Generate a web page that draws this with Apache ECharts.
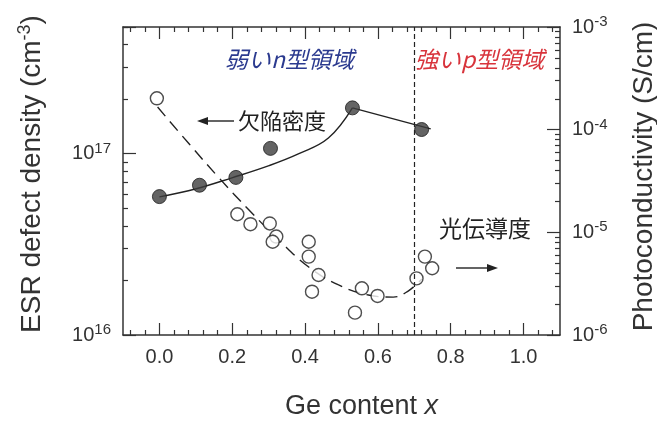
<!DOCTYPE html>
<html>
<head>
<meta charset="utf-8">
<script src="https://cdn.jsdelivr.net/npm/echarts@6/dist/echarts.min.js"></script>
<style>
html,body{margin:0;padding:0;background:#ffffff;}
#c{width:657px;height:421px;}
</style>
</head>
<body>
<div id="c"></div>
<script>
// ---- data ----
const defectX = [0.0, 0.11, 0.21, 0.305, 0.53, 0.72];
const defectY = [5.8e16, 6.7e16, 7.4e16, 1.07e17, 1.79e17, 1.36e17];

// fitted guide line for the defect density (curved part, then straight part)
const defectCurveX = [0.0, 0.101, 0.199, 0.301, 0.383, 0.464, 0.53];
const defectCurveY = [5.78e16, 6.41e16, 7.36e16, 8.59e16, 1.0e17, 1.22e17, 1.79e17];
const defectTailX = [0.53, 0.745];
const defectTailY = [1.79e17, 1.37e17];

const photoX = [-0.007, 0.214, 0.25, 0.303, 0.321, 0.311, 0.41, 0.41, 0.437, 0.419, 0.537, 0.556, 0.599, 0.706, 0.729, 0.749];
const photoY = [2.02e-4, 1.50e-5, 1.20e-5, 1.22e-5, 9.1e-6, 8.1e-6, 8.1e-6, 5.8e-6, 3.84e-6, 2.64e-6, 1.65e-6, 2.85e-6, 2.4e-6, 3.56e-6, 5.8e-6, 4.47e-6];

// dashed guide line for the photoconductivity
const photoFitX = [-0.005, 0.082, 0.164, 0.246, 0.328, 0.41, 0.492, 0.574, 0.642, 0.683, 0.721];
const photoFitY = [1.66e-4, 7.24e-5, 3.38e-5, 1.65e-5, 8.41e-6, 4.59e-6, 3.07e-6, 2.45e-6, 2.34e-6, 2.68e-6, 3.51e-6];

const xTickLabels = [0.0, 0.2, 0.4, 0.6, 0.8, 1.0];
const regionBoundary = 0.7;

const xTitle = 'Ge content {i|x}';
const leftTitle = '{a|ESR defect density (cm}{s|-3}{a|)}';
const rightTitle = 'Photoconductivity (S/cm)';
const weakN = '弱いn型領域';
const strongP = '強いp型領域';
const defectLabel = '欠陥密度';
const photoLabel = '光伝導度';

// ---- helpers ----
const zip = (xs, ys) => xs.map((x, i) => [x, ys[i]]);
const xMinor = [];
for (let i = -2; i <= 27; i++) {
  const v = +(i * 0.04).toFixed(2);
  if (Math.abs(v / 0.2 - Math.round(v / 0.2)) > 1e-6) xMinor.push(v);
}
function logMinors(lo, hi) {
  const out = [];
  for (let d = lo; d < hi; d++) for (let k = 2; k <= 9; k++) {
    const v = d + Math.log10(k);
    if (v <= hi + 1e-9) out.push(v);
  }
  return out;
}
const leftMax = Math.log10(5e17);
const leftMinor = logMinors(16, leftMax);
const rightMinor = logMinors(-6, -3);

const LAT = '"Liberation Sans", Arial, sans-serif';
const CJK = '"Noto Sans CJK JP", sans-serif';
const AX = '#333';
const INK = '#222';

const supRich = {
  a: {fontSize: 20, fontFamily: LAT, color: AX},
  b: {fontSize: 15, fontFamily: LAT, color: AX, padding: [0, 0, 10, 0]}
};
const expFmt = v => {
  const e = Math.log10(v);
  if (Math.abs(e - Math.round(e)) > 0.01) return '';
  return '{a|10}{b|' + Math.round(e) + '}';
};

function deco(pos, min, max, vals, len) {
  return {
    type: 'value', gridIndex: 0, position: pos, min: min, max: max,
    axisLine: {show: false, onZero: false},
    axisTick: {show: true, inside: true, length: len, customValues: vals, lineStyle: {color: AX, width: 1.2}},
    axisLabel: {show: false}, splitLine: {show: false}, silent: true
  };
}

const chart = echarts.init(document.getElementById('c'), null, {renderer: 'canvas'});
chart.setOption({
  backgroundColor: '#ffffff',
  animation: false,
  grid: {left: 123, right: 97, top: 27, bottom: 86, containLabel: false, outerBoundsMode: 'none'},
  xAxis: [
    {
      type: 'value', position: 'bottom', min: -0.1, max: 1.1,
      axisLine: {show: true, onZero: false, lineStyle: {color: AX, width: 1.5}},
      axisTick: {show: true, inside: true, length: 12, customValues: xTickLabels, lineStyle: {color: AX, width: 1.2}},
      axisLabel: {show: true, customValues: xTickLabels, formatter: v => v.toFixed(1), fontSize: 20, fontFamily: LAT, color: AX, margin: 12},
      splitLine: {show: false},
      name: xTitle, nameLocation: 'middle', nameGap: 58,
      nameTextStyle: {fontSize: 27, fontFamily: LAT, color: AX, padding: [0, 0, 0, 40],
        rich: {i: {fontSize: 27, fontFamily: LAT, color: AX, fontStyle: 'italic'}}}
    },
    deco('bottom', -0.1, 1.1, xMinor, 5),
    {
      type: 'value', position: 'top', min: -0.1, max: 1.1,
      axisLine: {show: true, onZero: false, lineStyle: {color: AX, width: 1.5}},
      axisTick: {show: true, inside: true, length: 12, customValues: xTickLabels, lineStyle: {color: AX, width: 1.2}},
      axisLabel: {show: false}, splitLine: {show: false}
    },
    deco('top', -0.1, 1.1, xMinor, 5)
  ],
  yAxis: [
    {
      type: 'log', logBase: 10, position: 'left', min: 1e16, max: 5e17,
      axisLine: {show: true, onZero: false, lineStyle: {color: AX, width: 1.5}},
      axisTick: {show: true, inside: true, length: 13, lineStyle: {color: AX, width: 1.2}},
      axisLabel: {formatter: expFmt, rich: supRich, margin: 12},
      splitLine: {show: false}, minorTick: {show: false},
      name: leftTitle, nameLocation: 'middle', nameRotate: 90, nameGap: 75,
      nameTextStyle: {padding: [0, 0, 0, 14],
        rich: {a: {fontSize: 28, fontFamily: LAT, color: AX},
               s: {fontSize: 18, fontFamily: LAT, color: AX, padding: [0, 0, 14, 0]}}}
    },
    {
      type: 'log', logBase: 10, position: 'right', min: 1e-6, max: 1e-3,
      axisLine: {show: true, onZero: false, lineStyle: {color: AX, width: 1.5}},
      axisTick: {show: true, inside: true, length: 13, lineStyle: {color: AX, width: 1.2}},
      axisLabel: {formatter: expFmt, rich: supRich, margin: 12},
      splitLine: {show: false}, minorTick: {show: false},
      name: rightTitle, nameLocation: 'middle', nameRotate: 90, nameGap: 70,
      nameTextStyle: {fontSize: 28, fontFamily: LAT, color: AX, padding: [0, 0, 0, 9]}
    },
    deco('left', 16, leftMax, leftMinor, 5),
    deco('right', -6, -3, rightMinor, 5)
  ],
  series: [
    {
      type: 'line', xAxisIndex: 0, yAxisIndex: 0, data: zip(defectCurveX, defectCurveY),
      smooth: 0.4, showSymbol: false, symbol: 'none',
      lineStyle: {color: INK, width: 1.4}, z: 2,
      markLine: {
        silent: true, symbol: 'none', label: {show: false},
        lineStyle: {color: INK, type: [5, 3], width: 1.2},
        data: [{xAxis: regionBoundary}]
      }
    },
    {
      type: 'line', xAxisIndex: 0, yAxisIndex: 0, data: zip(defectTailX, defectTailY),
      showSymbol: false, symbol: 'none',
      lineStyle: {color: INK, width: 1.4}, z: 2
    },
    {
      type: 'line', xAxisIndex: 0, yAxisIndex: 1, data: zip(photoFitX, photoFitY),
      smooth: 0.4, showSymbol: false, symbol: 'none',
      lineStyle: {color: INK, width: 1.4, type: [12, 7]}, z: 2
    },
    {
      type: 'scatter', xAxisIndex: 0, yAxisIndex: 1, data: zip(photoX, photoY),
      symbol: 'circle', symbolSize: 13,
      itemStyle: {color: '#ffffff', borderColor: INK, borderWidth: 1.4}, z: 3
    },
    {
      type: 'scatter', xAxisIndex: 0, yAxisIndex: 0, data: zip(defectX, defectY),
      symbol: 'circle', symbolSize: 14,
      itemStyle: {color: '#3d3d3d', borderColor: '#1a1a1a', borderWidth: 1}, z: 4
    }
  ],
  graphic: [
    {type: 'text', x: 225, y: 59, style: {text: weakN, fontSize: 23, fontFamily: CJK, fontStyle: 'italic', fill: '#2b3a8f', verticalAlign: 'middle'}},
    {type: 'text', x: 415, y: 59, style: {text: strongP, fontSize: 23, fontFamily: CJK, fontStyle: 'italic', fill: '#d8343c', verticalAlign: 'middle'}},
    {type: 'text', x: 238, y: 121, style: {text: defectLabel, fontSize: 22, fontFamily: CJK, fill: INK, verticalAlign: 'middle'}},
    {type: 'text', x: 439, y: 228, style: {text: photoLabel, fontSize: 23, fontFamily: CJK, fill: INK, verticalAlign: 'middle'}},
    {type: 'line', shape: {x1: 206, y1: 121, x2: 234, y2: 121}, style: {stroke: INK, lineWidth: 1.4}},
    {type: 'polygon', shape: {points: [[197, 121], [208, 117], [208, 125]]}, style: {fill: INK}},
    {type: 'line', shape: {x1: 456, y1: 268, x2: 488, y2: 268}, style: {stroke: INK, lineWidth: 1.4}},
    {type: 'polygon', shape: {points: [[498, 268], [487, 264], [487, 272]]}, style: {fill: INK}}
  ]
});
</script>
</body>
</html>
